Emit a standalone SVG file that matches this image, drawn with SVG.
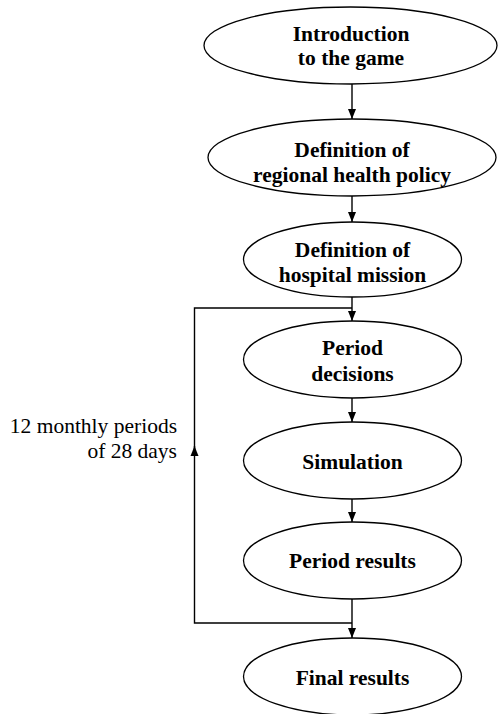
<svg xmlns="http://www.w3.org/2000/svg" width="498" height="714" viewBox="0 0 498 714">
<style>
.node ellipse{fill:#fff;stroke:#000;stroke-width:1.3}
.lbl{font-family:"Liberation Serif","Times New Roman",serif;font-weight:bold;font-size:21.5px;text-anchor:middle;fill:#000}
.note{font-family:"Liberation Serif","Times New Roman",serif;font-size:21.5px;text-anchor:end;fill:#000}
.conn path{fill:none;stroke:#000;stroke-width:1.4}
</style>
<defs>
<marker id="ah" markerUnits="userSpaceOnUse" markerWidth="10" markerHeight="10" viewBox="0 0 10 10" refX="10" refY="5" orient="auto">
<path d="M0,1 L10,5 L0,9 Z" fill="#000"/>
</marker>
</defs>
<rect width="498" height="714" fill="#fff"/>
<g id="connectors" class="conn">
<path d="M352,84 V119" marker-end="url(#ah)"/>
<path d="M352,196 V222" marker-end="url(#ah)"/>
<path d="M352,297 V321" marker-end="url(#ah)"/>
<path d="M352,398 V422" marker-end="url(#ah)"/>
<path d="M352,499 V522" marker-end="url(#ah)"/>
<path d="M352,599 V638" marker-end="url(#ah)"/>
<path d="M352,623 H194.5 V446" marker-end="url(#ah)"/>
<path d="M194.5,450 V308 H352"/>
</g>
<g id="n1" class="node"><ellipse cx="350.5" cy="45.5" rx="146.5" ry="38.5"/><text class="lbl" x="351" y="41">Introduction</text><text class="lbl" x="351" y="65">to the game</text></g>
<g id="n2" class="node"><ellipse cx="352" cy="157.5" rx="144" ry="38.5"/><text class="lbl" x="352" y="157">Definition of</text><text class="lbl" x="352" y="182">regional health policy</text></g>
<g id="n3" class="node"><ellipse cx="352.5" cy="259.5" rx="109" ry="37.5"/><text class="lbl" x="352.5" y="257">Definition of</text><text class="lbl" x="352.5" y="282">hospital mission</text></g>
<g id="n4" class="node"><ellipse cx="352.5" cy="359.5" rx="109" ry="38.5"/><text class="lbl" x="352.5" y="355">Period</text><text class="lbl" x="352.5" y="381">decisions</text></g>
<g id="n5" class="node"><ellipse cx="352.5" cy="460.5" rx="109" ry="38.5"/><text class="lbl" x="352.5" y="469">Simulation</text></g>
<g id="n6" class="node"><ellipse cx="352.5" cy="560.5" rx="109" ry="38.5"/><text class="lbl" x="352.5" y="568">Period results</text></g>
<g id="n7" class="node"><ellipse cx="352.5" cy="676.5" rx="109" ry="38.5"/><text class="lbl" x="352.5" y="685">Final results</text></g>
<g id="loop-label"><text class="note" x="177" y="433">12 monthly periods</text><text class="note" x="177" y="458">of 28 days</text></g>
</svg>
